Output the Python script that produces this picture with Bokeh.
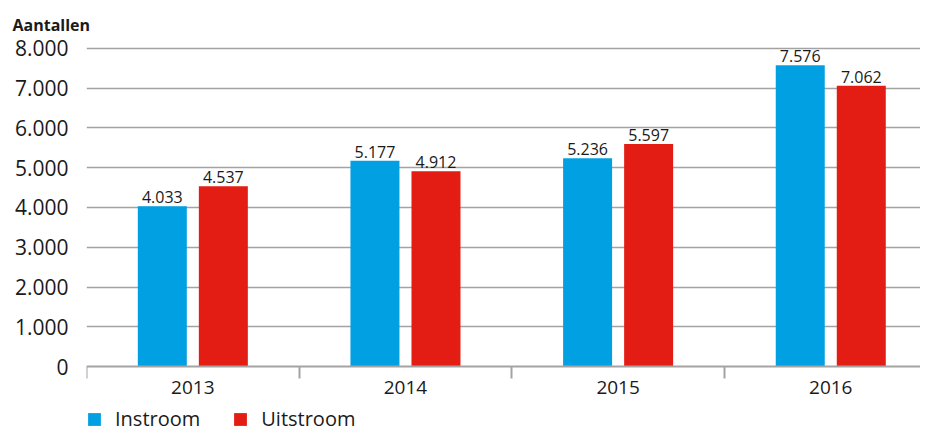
from bokeh.plotting import figure
from bokeh.models import Range1d, FixedTicker, Legend, LegendItem, ColumnDataSource, LinearAxis
from bokeh.core.properties import value
from bokeh.embed import file_html
from bokeh.resources import INLINE

years = ["2013", "2014", "2015", "2016"]
instroom = [4033, 5177, 5236, 7576]
uitstroom = [4537, 4912, 5597, 7062]
y_ticks = [0, 1000, 2000, 3000, 4000, 5000, 6000, 7000, 8000]
y_tick_labels = ["0", "1.000", "2.000", "3.000", "4.000", "5.000", "6.000", "7.000", "8.000"]

BLUE = "#00a0e2"
RED = "#e31d13"
GRID = "#a3a3a3"
FONT = "Open Sans"

def fmt(v):
    return f"{v:,}".replace(",", ".")

centers = [i + 0.5 for i in range(len(years))]
off = 0.1435
bw = 0.2304

src_in = ColumnDataSource(dict(x=[c - off for c in centers], top=instroom,
                               lab=[fmt(v) for v in instroom]))
src_out = ColumnDataSource(dict(x=[c + off for c in centers], top=uitstroom,
                                lab=[fmt(v) for v in uitstroom]))

p = figure(frame_width=834, frame_height=386, output_backend="svg", toolbar_location=None,
           x_range=Range1d(0, 3.922), y_range=Range1d(-1660, 8050),
           x_axis_location=None,
           min_border_left=86, min_border_right=0, min_border_top=14, min_border_bottom=0,
           title="Aantallen")
p.outline_line_color = None
p.background_fill_color = "white"

p.title.text_font = FONT
p.title.text_font_size = "16px"
p.title.text_font_style = "bold"
p.title.text_color = "#1a1a1a"
p.title.align = "left"
p.title.offset = -74
p.title.standoff = 22

r1 = p.vbar(x="x", top="top", width=bw, source=src_in, color=BLUE, line_color=None)
r2 = p.vbar(x="x", top="top", width=bw, source=src_out, color=RED, line_color=None)

for s in (src_in, src_out):
    p.text(x="x", y="top", text="lab", source=s, text_align="center", text_baseline="bottom",
           y_offset=-3, text_font=value(FONT), text_font_size="16px", text_color="#1a1a1a")

# y axis
p.yaxis.ticker = FixedTicker(ticks=y_ticks)
p.yaxis.major_label_overrides = {t: l for t, l in zip(y_ticks, y_tick_labels)}
p.yaxis.axis_line_color = None
p.yaxis.major_tick_line_color = None
p.yaxis.minor_tick_line_color = None
p.yaxis.major_label_text_font = FONT
p.yaxis.major_label_text_font_size = "21px"
p.yaxis.major_label_text_color = "#1a1a1a"
p.yaxis.major_label_standoff = 12

p.ygrid.ticker = FixedTicker(ticks=y_ticks[1:])
p.ygrid.grid_line_color = GRID
p.ygrid.grid_line_width = 1.5
p.xgrid.grid_line_color = None

# x axis drawn at y = 0 inside the frame
xa = LinearAxis(fixed_location=0)
xa.ticker = FixedTicker(ticks=centers, minor_ticks=[0, 1, 2, 3])
xa.major_label_overrides = {c: y for c, y in zip(centers, years)}
xa.axis_line_color = GRID
xa.axis_line_width = 2
xa.major_tick_line_color = None
xa.major_tick_out = 0
xa.major_tick_in = 0
xa.minor_tick_line_color = GRID
xa.minor_tick_line_width = 2
xa.minor_tick_out = 12
xa.minor_tick_in = 0
xa.major_label_text_font = FONT
xa.major_label_text_font_size = "19px"
xa.major_label_text_color = "#1a1a1a"
xa.major_label_standoff = 2
p.add_layout(xa, "below")

legend = Legend(items=[LegendItem(label="Instroom", renderers=[r1]),
                       LegendItem(label="Uitstroom", renderers=[r2])],
                orientation="horizontal", location=(0, 0),
                glyph_width=16, glyph_height=16, label_standoff=13, spacing=32,
                label_text_font=FONT, label_text_font_size="20px", label_text_color="#1a1a1a",
                padding=0, margin=0, border_line_color=None, background_fill_alpha=0)
p.add_layout(legend)

open("out.html", "w").write(file_html(p, INLINE))
